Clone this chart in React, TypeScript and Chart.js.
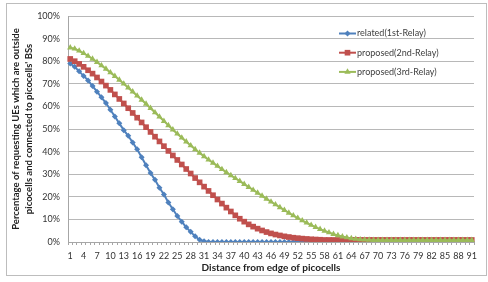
import React, { useEffect, useRef } from 'react';
import { Chart, registerables } from 'chart.js';

Chart.register(...registerables);

const categories = [
  1, 2, 3, 4, 5, 6, 7, 8, 9, 10, 11, 12, 13, 14, 15, 16, 17, 18, 19, 20,
  21, 22, 23, 24, 25, 26, 27, 28, 29, 30, 31, 32, 33, 34, 35, 36, 37, 38, 39, 40,
  41, 42, 43, 44, 45, 46, 47, 48, 49, 50, 51, 52, 53, 54, 55, 56, 57, 58, 59, 60,
  61, 62, 63, 64, 65, 66, 67, 68, 69, 70, 71, 72, 73, 74, 75, 76, 77, 78, 79, 80,
  81, 82, 83, 84, 85, 86, 87, 88, 89, 90, 91,
];

const tickLabels = [1, 4, 7, 10, 13, 16, 19, 22, 25, 28, 31, 34, 37, 40, 43, 46, 49, 52, 55, 58, 61, 64, 67, 70, 73, 76, 79, 82, 85, 88, 91];

const related1st = [
  79, 77.5, 75.5, 73.5, 71.5, 69, 66.5, 64, 61.5, 58.5,
  55.5, 52.5, 49.5, 47, 44, 41, 37.5, 34, 30.5, 27.5,
  24, 21, 17.5, 14.5, 11.5, 9, 6.5, 4.5, 2.5, 1,
  0.3, 0, 0, 0, 0, 0, 0, 0, 0, 0,
  0, 0, 0, 0, 0, 0, 0, 0, 0, 0,
  0, 0, 0, 0, 0, 0, 0, 0, 0, 0,
  0, 0, 0, 0, 0, 0, 0, 0, 0, 0,
  0, 0, 0, 0, 0, 0, 0, 0, 0, 0,
  0, 0, 0, 0, 0, 0, 0, 0, 0, 0,
  0,
];

const proposed2nd = [
  81, 80, 78.8, 77.5, 76, 74.5, 72.8, 71, 69.2, 67.3,
  65.3, 63.3, 61.3, 59.2, 57.1, 55, 52.9, 50.8, 48.7, 46.6,
  44.5, 42.4, 40.3, 38.3, 36.3, 34.3, 32.3, 30.3, 28.3, 26.4,
  24.5, 22.6, 20.7, 18.8, 17, 15.2, 13.5, 11.8, 10.3, 9,
  7.8, 6.8, 5.9, 5.1, 4.4, 3.8, 3.3, 2.9, 2.5, 2.2,
  1.9, 1.7, 1.5, 1.35, 1.2, 1.1, 1.0, 0.9, 0.9, 0.9,
  0.9, 0.9, 0.9, 0.9, 0.9, 0.9, 0.9, 0.9, 0.9, 0.9,
  0.9, 0.9, 0.9, 0.9, 0.9, 0.9, 0.9, 0.9, 0.9, 0.9,
  0.9, 0.9, 0.9, 0.9, 0.9, 0.9, 0.9, 0.9, 0.9, 0.9,
  0.9,
];

const proposed3rd = [
  86, 85.5, 84.6, 83.5, 82.3, 81, 79.6, 78.1, 76.6, 75,
  73.4, 71.7, 70, 68.3, 66.5, 64.7, 62.9, 61.1, 59.2, 57.3,
  55.4, 53.5, 51.6, 49.7, 47.9, 46.1, 44.4, 42.7, 41, 39.4,
  37.9, 36.4, 35, 33.6, 32.2, 30.8, 29.5, 28.2, 26.9, 25.6,
  24.3, 23, 21.7, 20.4, 19.1, 17.8, 16.6, 15.3, 14.1, 12.9,
  11.7, 10.6, 9.5, 8.5, 7.5, 6.6, 5.7, 4.9, 4.2, 3.5,
  2.9, 2.4, 2.0, 1.6, 1.3, 1.1, 1.0, 0.9, 0.8, 0.8,
  0.8, 0.8, 0.8, 0.8, 0.8, 0.8, 0.8, 0.8, 0.8, 0.8,
  0.8, 0.8, 0.8, 0.8, 0.8, 0.8, 0.8, 0.8, 0.8, 0.8,
  0.8,
];

const seriesNames = ['related(1st-Relay)', 'proposed(2nd-Relay)', 'proposed(3rd-Relay)'];
const seriesColors = ['#4F81BD', '#C0504D', '#9BBB59'];
const seriesMarkers = ['rectRot', 'rect', 'triangle'];
const seriesMarkerRadius = [3, 4, 3.6];

const xTitle = 'Distance from edge of picocells';
const yTitle = ['Percentage of requesting UEs which are outside', "picocells and connected to picocells' BSs"];

const FONT = 'Lato, "Liberation Sans", sans-serif';

function drawMarker(ctx: CanvasRenderingContext2D, style: string, x: number, y: number, r: number, color: string) {
  ctx.save();
  ctx.fillStyle = color;
  ctx.beginPath();
  if (style === 'rectRot') {
    ctx.moveTo(x, y - r);
    ctx.lineTo(x + r, y);
    ctx.lineTo(x, y + r);
    ctx.lineTo(x - r, y);
  } else if (style === 'rect') {
    const s = Math.SQRT1_2 * r;
    ctx.rect(x - s, y - s, 2 * s, 2 * s);
  } else {
    let rad = 0;
    ctx.moveTo(x + Math.sin(rad) * r, y - Math.cos(rad) * r);
    rad += (2 * Math.PI) / 3;
    ctx.lineTo(x + Math.sin(rad) * r, y - Math.cos(rad) * r);
    rad += (2 * Math.PI) / 3;
    ctx.lineTo(x + Math.sin(rad) * r, y - Math.cos(rad) * r);
  }
  ctx.closePath();
  ctx.fill();
  ctx.restore();
}

const framePlugin = {
  id: 'frameLegend',
  beforeDraw(chart: any) {
    const ctx = chart.ctx;
    ctx.save();
    ctx.fillStyle = '#ffffff';
    ctx.fillRect(0, 0, chart.width, chart.height);
    ctx.restore();
  },
  afterDraw(chart: any) {
    const ctx: CanvasRenderingContext2D = chart.ctx;
    ctx.save();
    ctx.strokeStyle = '#bdbdbd';
    ctx.lineWidth = 1;
    ctx.strokeRect(6.5, 3.5, 480, 272);
    const { right, top } = chart.chartArea;
    const x0 = right - 135;
    chart.data.datasets.forEach((ds: any, i: number) => {
      const y = top + 17.5 + i * 19.2;
      ctx.strokeStyle = seriesColors[i];
      ctx.lineWidth = 2;
      ctx.beginPath();
      ctx.moveTo(x0, y);
      ctx.lineTo(x0 + 17, y);
      ctx.stroke();
      drawMarker(ctx, seriesMarkers[i], x0 + 8.5, y, seriesMarkerRadius[i], seriesColors[i]);
      ctx.fillStyle = '#404040';
      ctx.font = `9px ${FONT}`;
      ctx.textBaseline = 'middle';
      ctx.textAlign = 'left';
      ctx.fillText(ds.label, x0 + 18, y);
    });
    ctx.restore();
  },
};

export default function App() {
  const canvasRef = useRef<HTMLCanvasElement | null>(null);

  useEffect(() => {
    if (!canvasRef.current) return;
    const seriesData = [related1st, proposed2nd, proposed3rd];
    const chart = new Chart(canvasRef.current, {
      type: 'line',
      data: {
        labels: categories.map(String),
        datasets: seriesData.map((d, i) => ({
          label: seriesNames[i],
          data: d,
          borderColor: seriesColors[i],
          backgroundColor: seriesColors[i],
          borderWidth: 2,
          pointStyle: seriesMarkers[i] as any,
          pointRadius: seriesMarkerRadius[i],
          pointBorderWidth: 0,
          pointBackgroundColor: seriesColors[i],
          pointBorderColor: seriesColors[i],
          tension: 0,
          order: 3 - i,
        })),
      },
      options: {
        responsive: false,
        animation: false,
        devicePixelRatio: 1,
        layout: { padding: { left: 6, right: 14, top: 16, bottom: 6 } },
        plugins: {
          legend: { display: false },
          tooltip: { enabled: false },
        },
        scales: {
          x: {
            type: 'category',
            offset: true,
            grid: { offset: true, drawOnChartArea: false, drawTicks: true, tickLength: 3, color: '#a6a6a6' },
            border: { color: '#a6a6a6' },
            ticks: {
              autoSkip: false,
              maxRotation: 0,
              minRotation: 0,
              padding: 6,
              color: '#333333',
              font: { family: FONT, size: 9 },
              callback: (_v: any, i: number) => (tickLabels.includes(categories[i]) ? String(categories[i]) : ''),
            },
            title: {
              display: true,
              text: xTitle,
              color: '#222222',
              font: { family: FONT, size: 10, weight: 'bold' },
              padding: { top: 0, bottom: 2 },
            },
            afterFit: (s: any) => {
              s.height = 34;
            },
          },
          y: {
            min: 0,
            max: 100,
            ticks: {
              stepSize: 10,
              padding: 8,
              color: '#333333',
              font: { family: FONT, size: 9 },
              callback: (v: any) => `${v}%`,
            },
            grid: { color: '#b8b8b8', drawTicks: false },
            border: { color: '#a6a6a6' },
            title: {
              display: true,
              text: yTitle,
              color: '#222222',
              font: { family: FONT, size: 9.5, weight: 'bold', lineHeight: 1.35 },
              padding: { top: 4, bottom: 0 },
            },
            afterFit: (s: any) => {
              s.width = 62;
            },
          },
        },
      },
      plugins: [framePlugin],
    } as any);
    return () => chart.destroy();
  }, []);

  return (
    <div style={{ position: 'absolute', left: 0, top: 0, width: 488, height: 282, background: '#fff' }}>
      <canvas ref={canvasRef} width={488} height={282} style={{ width: 488, height: 282, display: 'block' }} />
    </div>
  );
}
